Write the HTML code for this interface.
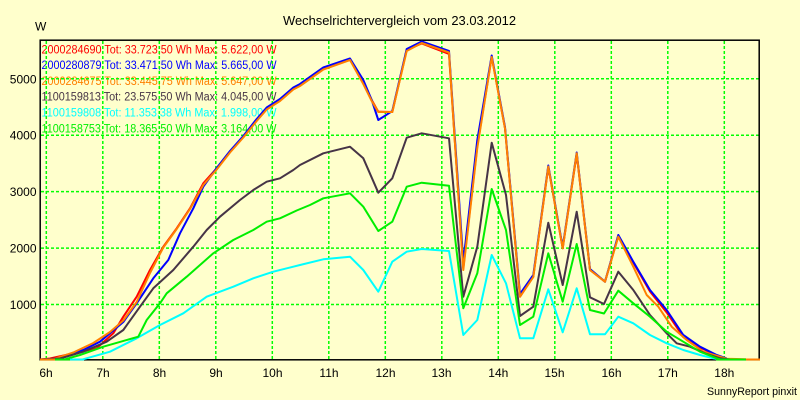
<!DOCTYPE html>
<html>
<head>
<meta charset="utf-8">
<style>
html,body{margin:0;padding:0;background:#ffffcc;}
svg{display:block;}
text{font-family:"Liberation Sans",Arial,sans-serif;}
</style>
</head>
<body>
<svg width="800" height="400" viewBox="0 0 800 400" xmlns="http://www.w3.org/2000/svg">
<rect x="0" y="0" width="800" height="400" fill="#ffffcc"/>
<text x="399.5" y="25" font-size="13" text-anchor="middle" fill="#000" textLength="233" lengthAdjust="spacingAndGlyphs">Wechselrichtervergleich vom 23.03.2012</text>
<text x="35" y="30.5" font-size="12" fill="#000">W</text>
<text x="797" y="395" font-size="11" text-anchor="end" fill="#000" textLength="90" lengthAdjust="spacingAndGlyphs">SunnyReport pinxit</text>

<!-- legend -->
<g font-size="11.5">
<text x="41.5" y="53.3" fill="#ff0000" textLength="235" lengthAdjust="spacingAndGlyphs">2000284690 Tot: 33.723,50 Wh Max: 5.622,00 W</text>
<text x="41.5" y="69.1" fill="#0000ff" textLength="235" lengthAdjust="spacingAndGlyphs">2000280879 Tot: 33.471,50 Wh Max: 5.665,00 W</text>
<text x="41.5" y="84.9" fill="#ff8000" textLength="235" lengthAdjust="spacingAndGlyphs">2000284675 Tot: 33.445,75 Wh Max: 5.647,00 W</text>
<text x="41.5" y="100.7" fill="#463446" textLength="235" lengthAdjust="spacingAndGlyphs">1100159813 Tot: 23.575,50 Wh Max: 4.045,00 W</text>
<text x="41.5" y="116.5" fill="#00ffff" textLength="235" lengthAdjust="spacingAndGlyphs">1100159808 Tot: 11.353,38 Wh Max: 1.998,00 W</text>
<text x="41.5" y="132.3" fill="#00ee00" textLength="235" lengthAdjust="spacingAndGlyphs">1100158753 Tot: 18.365,50 Wh Max: 3.164,00 W</text>
</g>

<!-- grid -->
<g stroke="#00ff00" stroke-width="1.5" stroke-dasharray="3 2" fill="none">
<line x1="41" y1="78.75" x2="759" y2="78.75"/>
<line x1="41" y1="135.2" x2="759" y2="135.2"/>
<line x1="41" y1="191.6" x2="759" y2="191.6"/>
<line x1="41" y1="248.1" x2="759" y2="248.1"/>
<line x1="41" y1="304.55" x2="759" y2="304.55"/>
<line x1="46.3" y1="41" x2="46.3" y2="359"/>
<line x1="102.8" y1="41" x2="102.8" y2="359"/>
<line x1="159.3" y1="41" x2="159.3" y2="359"/>
<line x1="215.8" y1="41" x2="215.8" y2="359"/>
<line x1="272.3" y1="41" x2="272.3" y2="359"/>
<line x1="328.8" y1="41" x2="328.8" y2="359"/>
<line x1="385.3" y1="41" x2="385.3" y2="359"/>
<line x1="441.8" y1="41" x2="441.8" y2="359"/>
<line x1="498.3" y1="41" x2="498.3" y2="359"/>
<line x1="554.8" y1="41" x2="554.8" y2="359"/>
<line x1="611.3" y1="41" x2="611.3" y2="359"/>
<line x1="667.8" y1="41" x2="667.8" y2="359"/>
<line x1="724.3" y1="41" x2="724.3" y2="359"/>
</g>

<!-- frame -->
<rect x="40.2" y="40.2" width="719" height="319.6" fill="none" stroke="#000" stroke-width="1.5"/>

<!-- y labels -->
<g font-size="12" text-anchor="end" fill="#000">
<text x="36.5" y="83.3">5000</text>
<text x="36.5" y="139.7">4000</text>
<text x="36.5" y="196.1">3000</text>
<text x="36.5" y="252.6">2000</text>
<text x="36.5" y="309">1000</text>
</g>
<!-- x labels -->
<g font-size="12" text-anchor="middle" fill="#000">
<text x="46" y="377">6h</text>
<text x="103" y="377">7h</text>
<text x="159.5" y="377">8h</text>
<text x="216" y="377">9h</text>
<text x="272.5" y="377">10h</text>
<text x="329" y="377">11h</text>
<text x="385.5" y="377">12h</text>
<text x="441.5" y="377">13h</text>
<text x="498.3" y="377">14h</text>
<text x="554.5" y="377">15h</text>
<text x="611.5" y="377">16h</text>
<text x="667.8" y="377">17h</text>
<text x="724.3" y="377">18h</text>
</g>

<!-- series -->
<g fill="none" stroke-width="2" stroke-linejoin="round">
<polyline stroke="#ff0000" points="40,359.5 50,358.5 73.3,353.3 96.7,348.3 113.3,333.3 123.3,316.7 136.7,296.7 150,270 163.3,246.7 176.7,228.3 190,208.3 203.3,183.3 216.7,168.3 230,151.7 243.3,136.7 256.7,120 266.7,108.3 280,100 293.3,88.3 300,85 323.3,68.3 350,59.3 363.3,83.3 371.7,100 378.3,111.7 392.3,112 406.7,50 421.7,43.5 449,54 463.3,268 477.3,146 491.7,57 505,128.3 520,296.7 533.3,276.7 548.3,167 562.7,248.3 576.7,154 590,270 605,281.7 618.3,236 633.3,262.5 650,291.5 666.7,312.5 683.3,337 700,347.5 716.7,355.5 726.7,359"/>
<polyline stroke="#0000ff" points="40,359.5 60,358.5 83.3,350 100,341.7 123.3,322 136.7,303.3 153.3,278.3 168.3,260 180,233.3 193.3,208.3 203.3,186.7 216.7,168 230,151 243.3,136 256.7,119 266.7,107.5 280,99 293.3,87.5 300,84 323.3,67.5 350,58.5 363.3,80 371.7,100 378.3,120 392.3,111 406.7,49 421.7,41.5 449,51 463.3,262 477.3,140 491.7,55.5 505,127 520,294 533.3,275 548.3,165.5 562.7,247 576.7,152.5 590,269 605,281.7 618.3,235 633.3,261.7 650,290 666.7,310 683.3,335 700,346.7 716.7,355 726.7,358.5"/>
<polyline stroke="#ff8000" points="53,359.3 73.3,352.5 93.3,343 110,332 123.3,320.5 136.7,302 150,273 163.3,247.5 176.7,229 190,209 203.3,185 216.7,169.5 230,152.5 243.3,137.5 256.7,121 266.7,109.5 280,101 293.3,89.5 300,86 323.3,69.5 350,60 363.3,84 371.7,101 378.3,112 392.3,112 406.7,51 421.7,43 449,52.5 463.3,270 477.3,148 491.7,57 505,128.3 520,296.7 533.3,277 548.3,166.5 562.7,248.3 576.7,153.3 590,270 605,281.7 618.3,236.7 633.3,266.7 646.7,295 658.3,306.7 671.7,326.7 686.7,340 703.3,351.7 726.7,358.7 746,359.3"/>
<polyline stroke="#463446" points="40,359.5 60,358.5 83.3,351.7 106.7,341.7 123.3,330 140,306.7 153.3,288.3 173.3,270 193.3,246.7 206.7,230 220,216.7 240,200 253.3,190 266.7,181.7 280,178.3 293.3,170 300,165 323.3,153.3 350,146.7 363.3,158.3 378.3,192.7 392.3,178.3 406.7,137.7 421.7,133.3 449,138.3 463.3,296.7 477.3,246.7 491.7,142.7 506,195 520,316 533.3,306.7 548.3,222.7 562.7,285 576.7,211.7 590,297.3 604,304 618.3,271.7 633.3,290 650,315 666.7,333.3 676.7,343.3 690,346.7 706.7,354 720,358.3 730,359.5"/>
<polyline stroke="#00ffff" points="83,359.3 110,351.7 136.7,338.3 160,325 183.3,313.3 206.7,296.7 233.3,286.7 253.3,278.3 273.3,271.7 293.3,266.7 300,265 323.3,259.3 350,256.7 363.3,270 378.3,291.7 392.3,261.7 406.7,251.7 421.7,249 449,251 463.3,335 477.3,320 491.7,255 506,283.3 520,338.3 533.3,338.3 548.3,289.3 562.7,332.3 576.7,288.3 590,334.3 605,334.3 618.3,316.7 633.3,323.3 650,335 666.7,343.3 683.3,350 700,355 713.3,358.3 720,359.5"/>
<polyline stroke="#00ee00" points="65,359.3 80,355 103.3,346.7 138.3,336.7 146.7,320 160,303.3 166.7,293.3 186.7,276.7 213.3,253.3 233.3,240 253.3,230 266.7,221.7 280,218.3 296.7,210.5 310,205 323.3,198.3 350,193.3 363.3,206.7 378.3,231 392.3,221.7 406.7,186.7 421.7,182.7 449,185.7 463.3,308.3 477.3,273.3 491.7,189 506,230 520,325 533.3,316.7 548.3,253.3 562.7,301.7 576.7,244 590,310 604,313.5 618.3,290.7 633.3,303.3 650,316.7 666.7,331.7 683.3,341.7 700,351.7 716.7,358.3 720,359.3"/>
<!-- baseline segments -->
<line x1="70" y1="359.5" x2="84" y2="359.5" stroke="#00ffff"/>
<line x1="54" y1="359.5" x2="70" y2="359.5" stroke="#00ee00"/>
<line x1="40" y1="359.5" x2="55" y2="359.5" stroke="#ff8000"/>
<line x1="716" y1="359.5" x2="746" y2="359.5" stroke="#00ee00"/>
<line x1="746" y1="359.5" x2="760" y2="359.5" stroke="#ff8000"/>
</g>
</svg>
</body>
</html>
